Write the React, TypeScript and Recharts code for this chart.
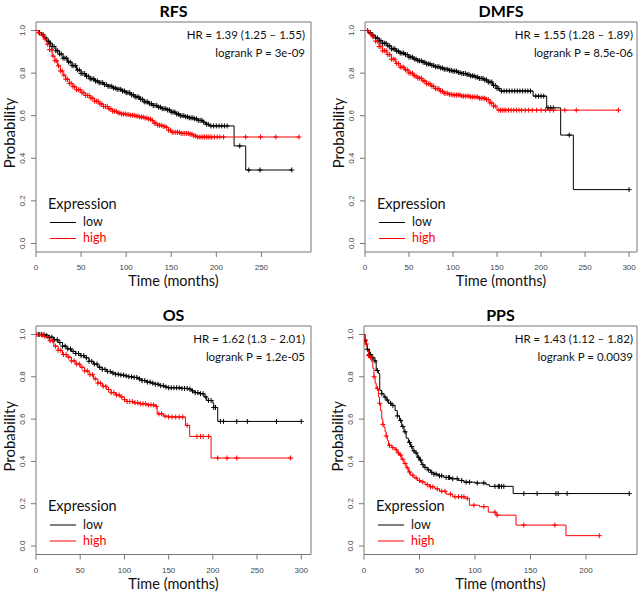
import React from 'react';
import { ComposedChart, Line, Scatter, XAxis, YAxis, ReferenceArea } from 'recharts';

type Pt = [number, number];

// ---------- RFS ----------
const rfsLow: Pt[] = [[0,1],[3,0.99],[6,0.98],[9,0.965],[12,0.95],[15,0.94],[18,0.925],[22,0.905],[26,0.89],[30,0.87],[35,0.852],[40,0.835],[45,0.815],[50,0.798],[55,0.785],[60,0.773],[65,0.763],[70,0.755],[75,0.746],[80,0.738],[85,0.73],[90,0.724],[95,0.716],[100,0.708],[105,0.698],[110,0.688],[115,0.677],[120,0.665],[125,0.656],[130,0.648],[135,0.64],[140,0.633],[145,0.627],[150,0.617],[155,0.608],[160,0.6],[165,0.595],[170,0.59],[175,0.585],[180,0.578],[185,0.57],[188,0.56],[192,0.552],[219.7,0.458],[232.6,0.345],[284,0.345]];
const rfsLowCensor: number[] = [4,8,11,14,16,18,20,22,24,26,28,30,32,34,36,38,40,42,44,46,48,50,52,54,56,58,60,62,64,66,68,70,72,74,76,78,80,82,84,86,88,90,92,94,96,98,100,102,104,106,108,110,112,114,116,118,120,122,124,126,128,130,132,134,136,138,140,142,144,146,148,150,152,154,156,158,160,162,164,166,168,170,172,174,176,178,180,182,184,186,189,191,194,197,200,203,206,209,212,226,236,248.5,283.6];
const rfsHigh: Pt[] = [[0,1],[3,0.99],[6,0.978],[9,0.96],[12,0.935],[15,0.91],[18,0.88],[21,0.858],[24,0.834],[27,0.81],[30,0.79],[33,0.771],[37,0.752],[41,0.736],[45,0.722],[50,0.708],[55,0.695],[60,0.682],[65,0.668],[70,0.655],[75,0.643],[80,0.632],[85,0.621],[90,0.613],[95,0.608],[100,0.605],[105,0.602],[110,0.598],[115,0.594],[120,0.589],[125,0.584],[128,0.578],[131,0.565],[135,0.555],[140,0.55],[144,0.545],[147,0.532],[150,0.522],[160,0.517],[170,0.513],[175,0.505],[178,0.5],[292,0.5]];
const rfsHighCensor: number[] = [3,7,10,13,15,17,19,21,23,25,27,29,31,33,35,37,39,41,43,45,47,49,51,53,55,57,59,61,63,65,67,69,71,73,75,77,79,81,83,85,87,89,91,93,95,97,99,101,103,105,107,109,111,113,115,117,119,121,123,125,127,129,131,133,135,137,139,141,143,145,147,149,151,153,155,157,159,161,163,165,167,169,171,173,175,177,179,181,183,185,187,189,191,193,195,198,201,204,208,232.6,249,266,291.7];

// ---------- DMFS ----------
const dmfsLow: Pt[] = [[0,1],[4,0.99],[8,0.978],[12,0.965],[16,0.952],[20,0.94],[25,0.928],[30,0.914],[35,0.903],[40,0.894],[45,0.887],[50,0.875],[55,0.866],[60,0.858],[65,0.851],[70,0.843],[75,0.836],[80,0.83],[85,0.824],[90,0.818],[95,0.813],[100,0.809],[105,0.803],[110,0.798],[115,0.793],[120,0.787],[125,0.781],[130,0.775],[135,0.768],[140,0.758],[145,0.742],[150,0.728],[153,0.716],[191,0.692],[206.4,0.637],[222.3,0.509],[236.7,0.253],[300,0.253]];
const dmfsLowCensor: number[] = [3,6,9,12,14,16,18,20,22,24,26,28,30,32,34,36,38,40,42,44,46,48,50,52,54,56,58,60,62,64,66,68,70,72,74,76,78,80,82,84,86,88,90,92,94,96,98,100,102,104,106,108,110,112,114,116,118,120,122,124,126,128,130,132,134,136,138,140,142,144,146,148,150,152,155,158,161,164,167,170,173,176,179,182,185,188,194,197,200,203,208,211,214,232,300];
const dmfsHigh: Pt[] = [[0,1],[4,0.985],[8,0.97],[12,0.95],[16,0.925],[20,0.905],[25,0.887],[30,0.865],[35,0.845],[40,0.828],[45,0.815],[50,0.8],[55,0.787],[60,0.776],[65,0.763],[70,0.75],[75,0.738],[80,0.727],[85,0.715],[90,0.705],[95,0.7],[100,0.697],[110,0.692],[120,0.688],[130,0.682],[138,0.676],[142,0.66],[146,0.645],[150,0.626],[288,0.626]];
const dmfsHighCensor: number[] = [3,6,9,12,14,16,18,20,22,24,26,28,30,32,34,36,38,40,42,44,46,48,50,52,54,56,58,60,62,64,66,68,70,72,74,76,78,80,82,84,86,88,90,92,94,96,98,100,102,104,106,108,110,112,114,116,118,120,122,124,126,128,130,132,134,136,138,140,142,144,146,148,152,154,156,158,160,163,166,169,172,175,178,182,186,190,195,200,205,210,214,227,240,288];

// ---------- OS ----------
const osLow: Pt[] = [[0,1],[10,0.995],[15,0.987],[20,0.975],[25,0.962],[30,0.945],[35,0.932],[40,0.92],[45,0.91],[50,0.9],[55,0.89],[60,0.873],[65,0.86],[70,0.845],[75,0.835],[80,0.825],[85,0.818],[90,0.812],[95,0.808],[100,0.804],[105,0.8],[110,0.797],[115,0.79],[120,0.782],[125,0.775],[130,0.77],[135,0.765],[140,0.758],[145,0.752],[150,0.748],[165,0.745],[172,0.742],[176,0.733],[180,0.725],[185,0.72],[190,0.705],[193,0.688],[200,0.675],[201,0.655],[205.5,0.589],[300,0.589]];
const osLowCensor: number[] = [3,6,9,12,15,18,21,24,27,30,33,36,39,42,45,48,51,54,57,60,63,66,69,72,75,78,81,84,87,90,93,96,99,102,105,108,111,114,117,120,123,126,129,132,135,138,141,144,147,150,153,156,159,162,165,168,171,174,177,180,183,186,189,192,195,198,201,203,208.5,212,227,239,272,300];
const osHigh: Pt[] = [[0,1],[5,0.997],[10,0.99],[15,0.97],[20,0.945],[25,0.925],[30,0.905],[35,0.893],[40,0.875],[45,0.86],[50,0.845],[55,0.828],[60,0.81],[65,0.79],[70,0.77],[75,0.755],[80,0.74],[85,0.725],[90,0.714],[95,0.705],[100,0.692],[103,0.683],[110,0.677],[118,0.672],[125,0.667],[135,0.66],[137,0.625],[144,0.614],[150,0.61],[169,0.57],[173.8,0.518],[198,0.416],[288,0.416]];
const osHighCensor: number[] = [1,4,7,10,13,16,19,22,25,28,31,34,37,40,43,46,49,52,55,58,61,64,67,70,73,76,79,82,85,88,91,94,97,100,103,106,109,112,115,118,121,124,127,130,133,136,139,142,146,150,154,158,162,166,171,182,186,189,195,205.5,216,227,288];

// ---------- PPS ----------
const ppsLow: Pt[] = [[0,1],[1,0.97],[2,0.95],[3,0.93],[5,0.905],[7,0.89],[9,0.875],[11,0.83],[13,0.815],[14.2,0.736],[16,0.72],[18,0.704],[20,0.69],[22,0.675],[25,0.665],[28,0.64],[30,0.615],[32,0.594],[34,0.565],[36,0.54],[38,0.51],[40,0.49],[42,0.47],[44,0.45],[46,0.44],[48,0.42],[50,0.406],[52,0.385],[54,0.372],[57,0.36],[60,0.348],[63,0.34],[67,0.332],[72,0.324],[78,0.318],[85,0.31],[90,0.302],[100,0.298],[110,0.29],[113,0.282],[134.4,0.248],[239,0.248]];
const ppsLowCensor: number[] = [1,3,5,6,8,10,12,16,19,21,24,26,30,33,35,37,41,43,45,47,49,51,53,55,58,61,63,65,68,70,74,76,77,80,84,88,92,95,102,108,118,121,122,124,126,144,156,173,175,183,239];
const ppsHigh: Pt[] = [[0,1],[1,0.975],[2,0.955],[3,0.93],[4,0.9],[5,0.89],[7,0.87],[8,0.84],[9,0.8],[10,0.77],[11,0.745],[13,0.705],[14,0.675],[15,0.64],[16,0.6],[17,0.575],[18,0.56],[19,0.54],[20,0.52],[21,0.5],[22,0.476],[25,0.465],[28,0.455],[30,0.44],[32,0.43],[34,0.41],[36,0.39],[38,0.37],[40,0.35],[42,0.335],[45,0.322],[48,0.31],[51,0.303],[55,0.29],[59,0.28],[64,0.27],[68,0.259],[74,0.245],[80,0.233],[91,0.225],[95,0.193],[104,0.186],[112,0.16],[119,0.146],[137,0.099],[182,0.049],[212,0.049]];
const ppsHighCensor: number[] = [1,2,4,6,9,12,14,17,20,23,26,29,31,33,35,37,39,41,44,47,50,53,57,60,62,66,70,73,78,82,85,88,90,93,99,108,118,120,144,172,212];

// ---------- labels / ticks ----------
const titles = ['RFS', 'DMFS', 'OS', 'PPS'];
const hrLabels = ['HR = 1.39 (1.25 \u2013 1.55)', 'HR = 1.55 (1.28 \u2013 1.89)', 'HR = 1.62 (1.3 \u2013 2.01)', 'HR = 1.43 (1.12 \u2013 1.82)'];
const pLabels = ['logrank P = 3e-09', 'logrank P = 8.5e-06', 'logrank P = 1.2e-05', 'logrank P = 0.0039'];
const xTicksRfs = [0, 50, 100, 150, 200, 250];
const xTicks300 = [0, 50, 100, 150, 200, 250, 300];
const xTicksPps = [0, 50, 100, 150, 200];
const yTicks = [0, 0.2, 0.4, 0.6, 0.8, 1.0];
const legendTitle = 'Expression';
const legendLabels = ['low', 'high'];
const xLabel = 'Time (months)';
const yLabel = 'Probability';

const LOW_COLOR = '#000000';
const HIGH_COLOR = '#ff0000';
const FONT = "Lato, 'Liberation Sans', sans-serif";
const TICK_FONT = "'Liberation Sans', Arial, sans-serif";
const GRAY = '#777777';

function stepAt(curve: Pt[], t: number): number {
  let v = curve[0][1];
  for (const [ct, cs] of curve) {
    if (ct <= t) v = cs;
    else break;
  }
  return v;
}
const rows = (curve: Pt[]) => curve.map(([t, s]) => ({ t, s }));
const censorRows = (curve: Pt[], times: number[]) => times.map((t) => ({ t, s: stepAt(curve, t) }));

type Box = { l: number; t: number; r: number; b: number };
type PanelCfg = {
  idx: number;
  x: number; y: number; w: number; h: number;
  box: Box;
  xMax: number;
  xTicks: number[];
  low: Pt[]; lowC: number[];
  high: Pt[]; highC: number[];
  textRight: number;
};

const panels: PanelCfg[] = [
  { idx: 0, x: 0, y: 0, w: 320, h: 300, box: { l: 36, t: 22, r: 311, b: 252 }, xMax: 305, xTicks: xTicksRfs, low: rfsLow, lowC: rfsLowCensor, high: rfsHigh, highC: rfsHighCensor, textRight: 305 },
  { idx: 1, x: 320, y: 0, w: 321, h: 300, box: { l: 45, t: 22, r: 317, b: 252 }, xMax: 309, xTicks: xTicks300, low: dmfsLow, lowC: dmfsLowCensor, high: dmfsHigh, highC: dmfsHighCensor, textRight: 313 },
  { idx: 2, x: 0, y: 300, w: 320, h: 293, box: { l: 36, t: 26, r: 311, b: 254.5 }, xMax: 311, xTicks: xTicks300, low: osLow, lowC: osLowCensor, high: osHigh, highC: osHighCensor, textRight: 305 },
  { idx: 3, x: 320, y: 300, w: 321, h: 293, box: { l: 44, t: 26, r: 317, b: 254.5 }, xMax: 246, xTicks: xTicksPps, low: ppsLow, lowC: ppsLowCensor, high: ppsHigh, highC: ppsHighCensor, textRight: 313 },
];

const makeCross = (color: string) => (props: any) => {
  const { cx, cy } = props;
  if (cx == null || cy == null) return <g />;
  return (
    <path d={`M${cx - 2.5},${cy}h5M${cx},${cy - 2.5}v5`} stroke={color} strokeWidth={1} fill="none" />
  );
};

function Panel({ cfg }: { cfg: PanelCfg }) {
  const { box } = cfg;
  const yAxisW = 30;
  const xAxisH = 30;
  const margin = { left: box.l - yAxisW, top: box.t, right: cfg.w - box.r, bottom: cfg.h - box.b - xAxisH };
  const cx = (box.l + box.r) / 2;
  const cy = (box.t + box.b) / 2;
  return (
    <div style={{ position: 'absolute', left: cfg.x, top: cfg.y, width: cfg.w, height: cfg.h }}>
      <ComposedChart width={cfg.w} height={cfg.h} margin={margin}>
        <XAxis
          type="number"
          dataKey="t"
          domain={[0, cfg.xMax]}
          ticks={cfg.xTicks}
          allowDataOverflow
          interval={0}
          height={xAxisH}
          axisLine={false}
          tickLine={{ stroke: GRAY }}
          tickSize={5}
          tick={(p: any) => (
            <text x={p.x} y={box.b + 18} textAnchor="middle" fontSize={8} fontFamily={TICK_FONT} fill="#444">
              {p.payload.value}
            </text>
          )}
        />
        <YAxis
          type="number"
          dataKey="s"
          domain={[-0.04, 1.04]}
          ticks={yTicks}
          allowDataOverflow
          interval={0}
          width={yAxisW}
          axisLine={false}
          tickLine={{ stroke: GRAY }}
          tickSize={5}
          tick={(p: any) => (
            <text transform={`translate(${box.l - 11},${p.y}) rotate(-90)`} textAnchor="middle" fontSize={8} fontFamily={TICK_FONT} fill="#444">
              {Number(p.payload.value).toFixed(1)}
            </text>
          )}
        />
        <ReferenceArea x1={0} x2={cfg.xMax} y1={-0.04} y2={1.04} fill="none" stroke={GRAY} strokeWidth={1} ifOverflow="visible" />
        <Line data={rows(cfg.low)} dataKey="s" type="stepAfter" stroke={LOW_COLOR} strokeWidth={1} dot={false} activeDot={false} isAnimationActive={false} />
        <Line data={rows(cfg.high)} dataKey="s" type="stepAfter" stroke={HIGH_COLOR} strokeWidth={1} dot={false} activeDot={false} isAnimationActive={false} />
        <Scatter data={censorRows(cfg.low, cfg.lowC)} shape={makeCross(LOW_COLOR)} isAnimationActive={false} />
        <Scatter data={censorRows(cfg.high, cfg.highC)} shape={makeCross(HIGH_COLOR)} isAnimationActive={false} />
      </ComposedChart>
      <svg width={cfg.w} height={cfg.h} style={{ position: 'absolute', left: 0, top: 0, pointerEvents: 'none' }}>
        <text x={cx} y={box.t - 5.5} textAnchor="middle" fontSize={16} fontWeight="bold" fontFamily={FONT} fill="#000">
          {titles[cfg.idx]}
        </text>
        <text x={cfg.textRight} y={box.t + 17} textAnchor="end" fontSize={11.5} fontFamily={FONT} fill="#111">
          {hrLabels[cfg.idx]}
        </text>
        <text x={cfg.textRight} y={box.t + 35} textAnchor="end" fontSize={11.5} fontFamily={FONT} fill="#111">
          {pLabels[cfg.idx]}
        </text>
        <text x={cx} y={box.b + 34} textAnchor="middle" fontSize={14.5} fontFamily={FONT} fill="#111">
          {xLabel}
        </text>
        <text transform={`translate(${box.l - 21},${cy - 4}) rotate(-90)`} textAnchor="middle" fontSize={15} fontFamily={FONT} fill="#111">
          {yLabel}
        </text>
        <text x={box.l + 12} y={box.b - 43.5} fontSize={14.5} fontFamily={FONT} fill="#111">
          {legendTitle}
        </text>
        <line x1={box.l + 14} x2={box.l + 40} y1={box.b - 29.5} y2={box.b - 29.5} stroke={LOW_COLOR} strokeWidth={1} />
        <line x1={box.l + 14} x2={box.l + 40} y1={box.b - 13.5} y2={box.b - 13.5} stroke={HIGH_COLOR} strokeWidth={1} />
        <text x={box.l + 47} y={box.b - 26} fontSize={12.5} fontFamily={FONT} fill="#111">
          {legendLabels[0]}
        </text>
        <text x={box.l + 47} y={box.b - 10} fontSize={12.5} fontFamily={FONT} fill={HIGH_COLOR}>
          {legendLabels[1]}
        </text>
      </svg>
    </div>
  );
}

export default function App() {
  return (
    <div style={{ position: 'absolute', left: 0, top: 0, width: 641, height: 593, background: '#fff', overflow: 'hidden' }}>
      {panels.map((p) => (
        <Panel key={p.idx} cfg={p} />
      ))}
    </div>
  );
}
